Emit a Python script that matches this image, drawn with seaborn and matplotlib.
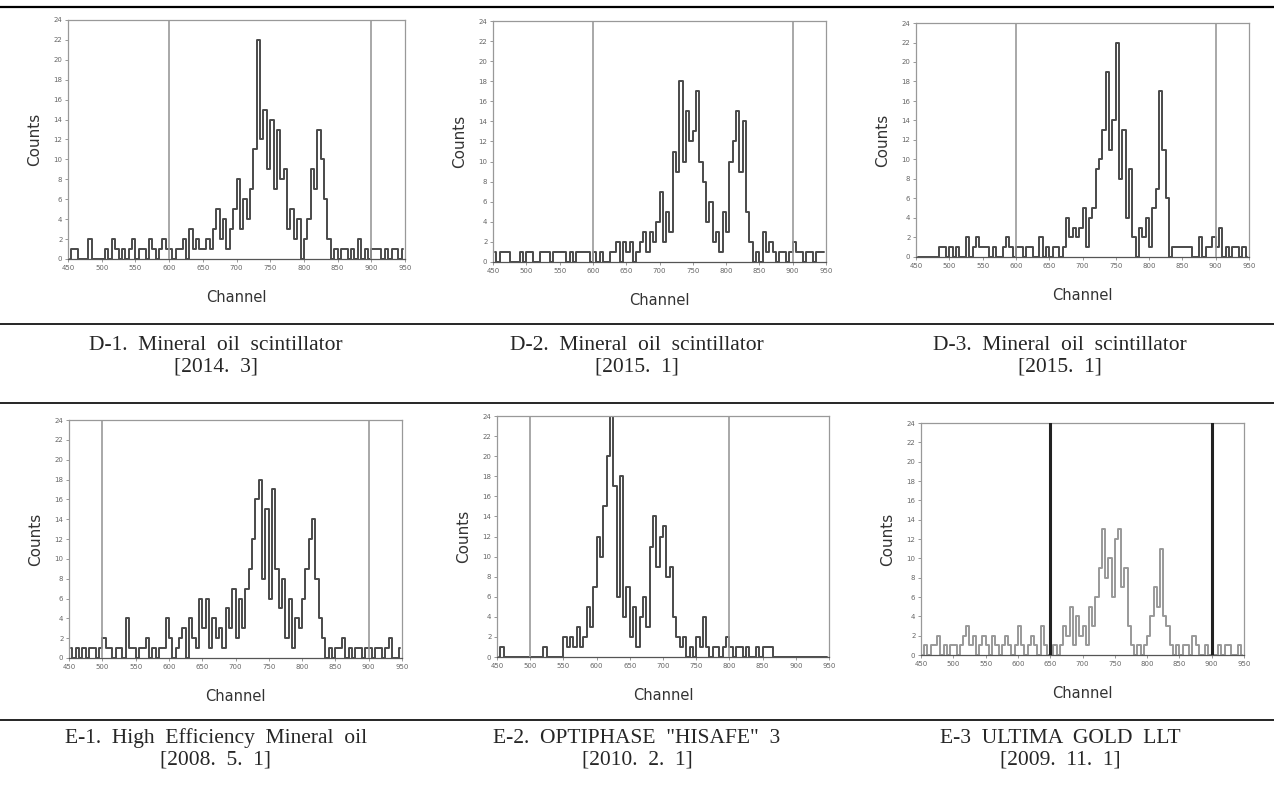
import numpy as np
import matplotlib
matplotlib.use("Agg")
import matplotlib.pyplot as plt
from matplotlib.lines import Line2D
from matplotlib.ticker import MultipleLocator
import seaborn as sns

# channel bins (5 channels wide), 450 - 950
channels = np.arange(452.5, 950, 5)

d1_counts = [0, 1, 1, 0, 0, 0, 2, 0, 0, 0,
             0, 1, 0, 2, 1, 0, 1, 0, 1, 2,
             0, 1, 1, 0, 2, 1, 0, 1, 2, 1,
             1, 0, 1, 1, 2, 0, 3, 1, 2, 1,
             1, 2, 1, 3, 5, 2, 4, 1, 3, 5,
             8, 3, 6, 4, 7, 11, 22, 12, 15, 9,
             14, 7, 13, 8, 9, 3, 5, 2, 4, 0,
             2, 4, 9, 7, 13, 10, 6, 2, 0, 1,
             0, 1, 1, 0, 1, 0, 2, 0, 1, 0,
             1, 1, 1, 0, 1, 0, 1, 1, 0, 1]

d2_counts = [1, 0, 1, 1, 1, 0, 0, 0, 1, 0,
             1, 1, 0, 0, 1, 1, 1, 0, 1, 1,
             1, 1, 0, 1, 0, 1, 1, 1, 1, 0,
             1, 0, 1, 0, 0, 1, 1, 2, 0, 2,
             1, 2, 0, 1, 2, 3, 1, 3, 2, 4,
             7, 2, 5, 3, 11, 9, 18, 10, 15, 12,
             13, 17, 10, 8, 4, 6, 2, 3, 1, 5,
             3, 10, 12, 15, 9, 14, 5, 2, 0, 1,
             0, 3, 1, 2, 1, 0, 1, 1, 0, 1,
             2, 1, 1, 0, 1, 1, 0, 1, 1, 1]

d3_counts = [0, 0, 0, 0, 0, 0, 0, 1, 1, 0,
             1, 0, 1, 0, 0, 2, 0, 1, 2, 1,
             1, 1, 0, 1, 0, 0, 1, 2, 1, 0,
             1, 1, 0, 1, 1, 0, 0, 2, 0, 1,
             0, 1, 1, 0, 1, 4, 2, 3, 2, 3,
             5, 1, 4, 5, 9, 10, 13, 19, 11, 14,
             22, 8, 13, 4, 9, 2, 0, 3, 2, 4,
             1, 5, 7, 17, 11, 6, 0, 1, 1, 1,
             1, 1, 1, 0, 0, 2, 0, 1, 1, 2,
             1, 3, 0, 1, 0, 1, 1, 0, 1, 0]

e1_counts = [1, 0, 1, 0, 1, 0, 1, 1, 0, 1,
             2, 1, 1, 0, 1, 1, 0, 4, 1, 1,
             0, 1, 1, 2, 0, 1, 0, 1, 1, 4,
             2, 0, 1, 2, 3, 0, 4, 2, 1, 6,
             3, 6, 1, 4, 2, 3, 1, 5, 3, 7,
             2, 6, 3, 7, 9, 12, 16, 18, 8, 15,
             6, 17, 9, 5, 8, 2, 6, 1, 4, 3,
             6, 9, 12, 14, 8, 4, 2, 0, 1, 0,
             1, 1, 2, 0, 1, 0, 1, 1, 0, 1,
             1, 0, 1, 1, 0, 1, 2, 0, 0, 1]

e2_counts = [0, 1, 0, 0, 0, 0, 0, 0, 0, 0,
             0, 0, 0, 0, 1, 0, 0, 0, 0, 0,
             2, 1, 2, 1, 3, 1, 2, 5, 3, 7,
             12, 10, 15, 20, 26, 17, 6, 18, 4, 7,
             2, 5, 1, 4, 6, 3, 11, 14, 9, 12,
             13, 8, 9, 4, 2, 1, 2, 0, 1, 0,
             2, 1, 4, 1, 0, 1, 1, 0, 1, 2,
             1, 0, 1, 1, 0, 1, 0, 0, 1, 0,
             1, 1, 1, 0, 0, 0, 0, 0, 0, 0,
             0, 0, 0, 0, 0, 0, 0, 0, 0, 0]

e3_counts = [0, 1, 0, 1, 1, 2, 0, 1, 0, 1,
             1, 0, 1, 2, 3, 1, 2, 0, 1, 2,
             1, 0, 2, 1, 0, 1, 2, 1, 0, 1,
             3, 1, 0, 1, 2, 1, 0, 3, 1, 0,
             0, 1, 0, 1, 3, 2, 5, 1, 4, 2,
             3, 1, 5, 3, 6, 9, 13, 8, 10, 6,
             12, 13, 7, 9, 3, 1, 0, 1, 0, 1,
             2, 4, 7, 5, 11, 4, 3, 1, 0, 1,
             0, 1, 1, 0, 2, 1, 0, 0, 1, 0,
             0, 0, 1, 0, 1, 1, 0, 0, 1, 0]

# region-of-interest window limits for each sample
windows = [(600, 900), (600, 900), (600, 900), (500, 900), (500, 800), (650, 900)]

captions = ["D-1.  Mineral  oil  scintillator\n[2014.  3]",
            "D-2.  Mineral  oil  scintillator\n[2015.  1]",
            "D-3.  Mineral  oil  scintillator\n[2015.  1]",
            "E-1.  High  Efficiency  Mineral  oil\n[2008.  5.  1]",
            "E-2.  OPTIPHASE  \"HISAFE\"  3\n[2010.  2.  1]",
            "E-3  ULTIMA  GOLD  LLT\n[2009.  11.  1]"]

all_counts = [d1_counts, d2_counts, d3_counts, e1_counts, e2_counts, e3_counts]

sns.set_theme(style="white")
plt.rcParams["font.family"] = ["DejaVu Sans"]

W, H = 1274, 795
fig = plt.figure(figsize=(W / 100, H / 100), dpi=100)

# axes boxes in pixels: left, top, right, bottom
boxes = [(68, 20, 405, 259), (493, 21, 826, 262), (916, 23, 1249, 257),
         (69, 420, 402, 658), (497, 416, 829, 657), (921, 423, 1244, 655)]

trace_colors = ["#4a4a4a"] * 5 + ["#999999"]
win_colors = ["#9a9a9a"] * 5 + ["#222222"]
win_widths = [1.2] * 5 + [2.2]

for i, (l, t, r, b) in enumerate(boxes):
    ax = fig.add_axes([l / W, 1 - b / H, (r - l) / W, (b - t) / H])
    sns.lineplot(x=channels, y=all_counts[i], ax=ax, estimator=None,
                 drawstyle="steps-mid", color=trace_colors[i], lw=1.4)
    for w in windows[i]:
        ax.axvline(w, color=win_colors[i], lw=win_widths[i], zorder=3)
    ax.set_xlim(450, 950)
    ax.set_ylim(0, 24)
    ax.xaxis.set_major_locator(MultipleLocator(50))
    ax.xaxis.set_minor_locator(MultipleLocator(25))
    ax.yaxis.set_major_locator(MultipleLocator(2))
    ax.yaxis.set_minor_locator(MultipleLocator(1))
    ax.tick_params(which="both", direction="out", labelsize=5, labelcolor="#666666",
                   color="#888888", length=2, width=0.6, pad=2)
    ax.tick_params(which="minor", length=1.2)
    ax.tick_params(axis="x", bottom=True)
    ax.tick_params(axis="y", left=True)
    for side, sp in ax.spines.items():
        sp.set_color("#999999")
        sp.set_linewidth(0.9)
    ax.spines["bottom"].set_color("#555555")
    ax.set_xlabel("Channel", fontsize=10.5, color="#333333", labelpad=14)
    ax.set_ylabel("Counts", fontsize=11, color="#333333", labelpad=8)

# table rules
for y in [7, 324, 403, 720]:
    fig.add_artist(Line2D([0, 1], [1 - y / H, 1 - y / H], color="black",
                          lw=1.6 if y == 7 else 1.2, transform=fig.transFigure))

col_x = [216, 637, 1060]
for i, cap in enumerate(captions):
    y = 356 if i < 3 else 749
    fig.text(col_x[i % 3] / W, 1 - y / H, cap, ha="center", va="center",
             fontsize=15.5, family="Liberation Serif", linespacing=1.2)

fig.savefig("out.png", dpi=100)
